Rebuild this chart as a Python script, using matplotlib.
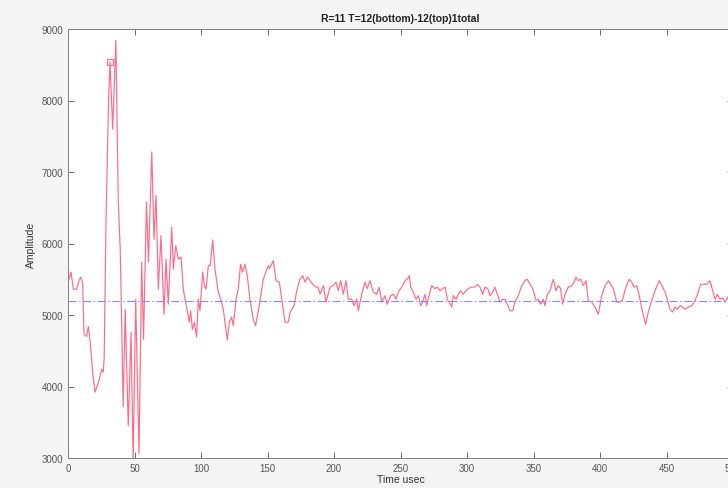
import matplotlib
matplotlib.use('Agg')
import matplotlib.pyplot as plt

# time (usec) and amplitude
time_us = [0, 2.3, 4, 6.5, 7.7, 9.5, 11, 12, 14, 15.3, 17, 18.5, 20.3, 21.6, 23.5,
           25.3, 26.5, 27.2, 28.6, 30.5, 31.6, 33.6, 36, 37.8, 39.3, 41.5, 43, 45.3,
           47.4, 49, 50.9, 53.4, 55.4, 56.8, 59, 60.5, 63, 64.7, 66.2, 67.9, 69.9,
           72.2, 73.7, 75.4, 78, 79.2, 81, 83, 85, 86.7, 88, 89.7, 91.2, 92.2, 93.5,
           95, 96.7, 98, 99.2, 101.3, 102.5, 103.8, 105.5, 106.8, 108.8, 110.5, 113,
           114.8, 116.8, 118, 119.8, 121.3, 123, 124.3, 126.3, 128, 129.8, 131.3,
           133, 134.8, 136.8, 139.3, 141, 143.8, 146.8, 150.6, 151.5, 154.4, 156.4,
           158.9, 160.7, 163.2, 165.6, 167, 170, 172, 174.4, 176.5, 178.2, 180, 182,
           184, 186.5, 188, 189.5, 192, 194, 197, 199.5, 201.5, 203.2, 205, 207, 209,
           210.8, 213.3, 215, 217, 218.3, 220.8, 223.3, 225, 227, 229.5, 232, 234,
           235.9, 238.3, 240, 242.6, 244.6, 246.6, 248.3, 250.9, 253.4, 255, 256.6,
           257.7, 259.6, 261.7, 263.4, 265.2, 266.7, 268.4, 269.7, 271.7, 273.4,
           275.9, 277.7, 279.7, 281.7, 283.5, 285.2, 286.7, 288.5, 289.7, 291.7,
           293.5, 295.3, 297.2, 299.2, 301, 303.5, 306, 307.7, 309.8, 311.8, 313.5,
           315.6, 317.3, 319.3, 321, 322.8, 324.8, 326.8, 328.6, 330.3, 332.3, 334.4,
           336, 338.6, 341.1, 343.6, 345.3, 347.4, 349.4, 351.9, 353.6, 355.4, 357.4,
           358.6, 360.4, 362.4, 364.9, 366.9, 368.6, 370.4, 371.9, 373.7, 376.2,
           378.7, 380.5, 382, 383.7, 385.5, 387.5, 389.5, 391.2, 393.8, 396.2, 398.7,
           401.3, 403.8, 406.3, 408, 410, 412.6, 415, 417, 419.5, 422, 423.8, 425.6,
           427.6, 429.5, 432, 434.3, 436.3, 438.8, 442, 444.6, 447.1, 448.9, 450.6,
           452.6, 454.6, 456.4, 458.1, 460.2, 462.2, 463.9, 466.4, 468.9, 471.4,
           473.9, 475.7, 477.7, 480.2, 482.7, 484.7, 486.5, 488.2, 490.2, 492.2, 494,
           496.2, 500]
amplitude = [5460, 5600, 5360, 5360, 5450, 5530, 5450, 4730, 4700, 4840, 4570, 4200,
             3920, 3990, 4100, 4240, 4200, 4400, 6340, 8000, 8540, 7600, 8840, 6580,
             5900, 3720, 5080, 3450, 4760, 2950, 5220, 3060, 5740, 4660, 6580, 5740,
             7280, 6060, 6670, 5360, 6110, 5010, 5780, 5150, 6230, 5640, 5970, 5780,
             5810, 5360, 5220, 5060, 4900, 5060, 4800, 4900, 4690, 5220, 5060, 5600,
             5410, 5360, 5690, 5690, 6050, 5640, 5320, 5220, 5080, 4900, 4650, 4900,
             4970, 4850, 5220, 5360, 5710, 5600, 5710, 5550, 5220, 4940, 4850, 5130,
             5500, 5690, 5650, 5760, 5480, 5460, 5220, 4900, 4900, 5040, 5130, 5340,
             5500, 5550, 5460, 5530, 5480, 5430, 5390, 5390, 5290, 5410, 5180, 5390,
             5410, 5460, 5340, 5480, 5290, 5480, 5220, 5220, 5130, 5220, 5060, 5290,
             5460, 5370, 5480, 5320, 5290, 5390, 5180, 5270, 5150, 5270, 5290, 5220,
             5320, 5390, 5480, 5500, 5550, 5390, 5320, 5220, 5270, 5130, 5180, 5290,
             5130, 5290, 5410, 5370, 5390, 5340, 5370, 5390, 5220, 5180, 5110, 5270,
             5220, 5290, 5340, 5290, 5340, 5370, 5390, 5390, 5430, 5390, 5290, 5390,
             5370, 5270, 5320, 5390, 5290, 5180, 5220, 5220, 5150, 5060, 5060, 5180,
             5270, 5410, 5480, 5500, 5430, 5370, 5200, 5220, 5150, 5220, 5130, 5290,
             5340, 5500, 5340, 5410, 5370, 5150, 5290, 5390, 5410, 5460, 5530, 5480,
             5500, 5410, 5480, 5200, 5180, 5110, 5010, 5270, 5410, 5480, 5430, 5370,
             5180, 5180, 5220, 5390, 5500, 5460, 5390, 5410, 5270, 5040, 4870, 5040,
             5200, 5370, 5480, 5390, 5320, 5220, 5080, 5040, 5110, 5080, 5130, 5110,
             5080, 5110, 5130, 5200, 5320, 5430, 5430, 5430, 5480, 5340, 5220, 5290,
             5220, 5240, 5180, 5250, 5200]
mean_level = 5190
peak_marker = (31.6, 8540)

plt.rcParams['font.family'] = ['Liberation Sans', 'DejaVu Sans']

fig = plt.figure(figsize=(7.28, 4.89), dpi=100)
fig.patch.set_facecolor('#f4f4f4')
# axes runs past the right edge, as in the reference crop
ax = fig.add_axes([68 / 728, 30 / 489, 665 / 728, 429 / 489])

ax.plot(time_us, amplitude, color='#ff6a86', lw=0.85)
ax.plot(*peak_marker, marker='s', ms=4, mfc='none', mec='#ff6a86', mew=0.8)
ax.axhline(mean_level, color='#8585ff', lw=0.8, linestyle=(0, (7, 2.5, 1.2, 2.5)))

ax.set_xlim(0, 500)
ax.set_ylim(3000, 9000)
ax.set_xticks(range(0, 501, 50))
ax.set_yticks(range(3000, 9001, 1000))
ax.tick_params(direction='in', top=True, right=True, labelsize=7,
               colors='#555555', length=4, width=0.6)
for sp in ax.spines.values():
    sp.set_color('#808080')
    sp.set_linewidth(0.7)

ax.set_title('R=11 T=12(bottom)-12(top)1total', fontsize=7.5,
             fontweight='bold', pad=6, color='#222222')
ax.set_xlabel('Time usec', fontsize=7.5, labelpad=1, color='#333333')
ax.set_ylabel('Amplitude', fontsize=7.5, labelpad=4, color='#333333')

fig.savefig('out.png', dpi=100, facecolor=fig.get_facecolor())
